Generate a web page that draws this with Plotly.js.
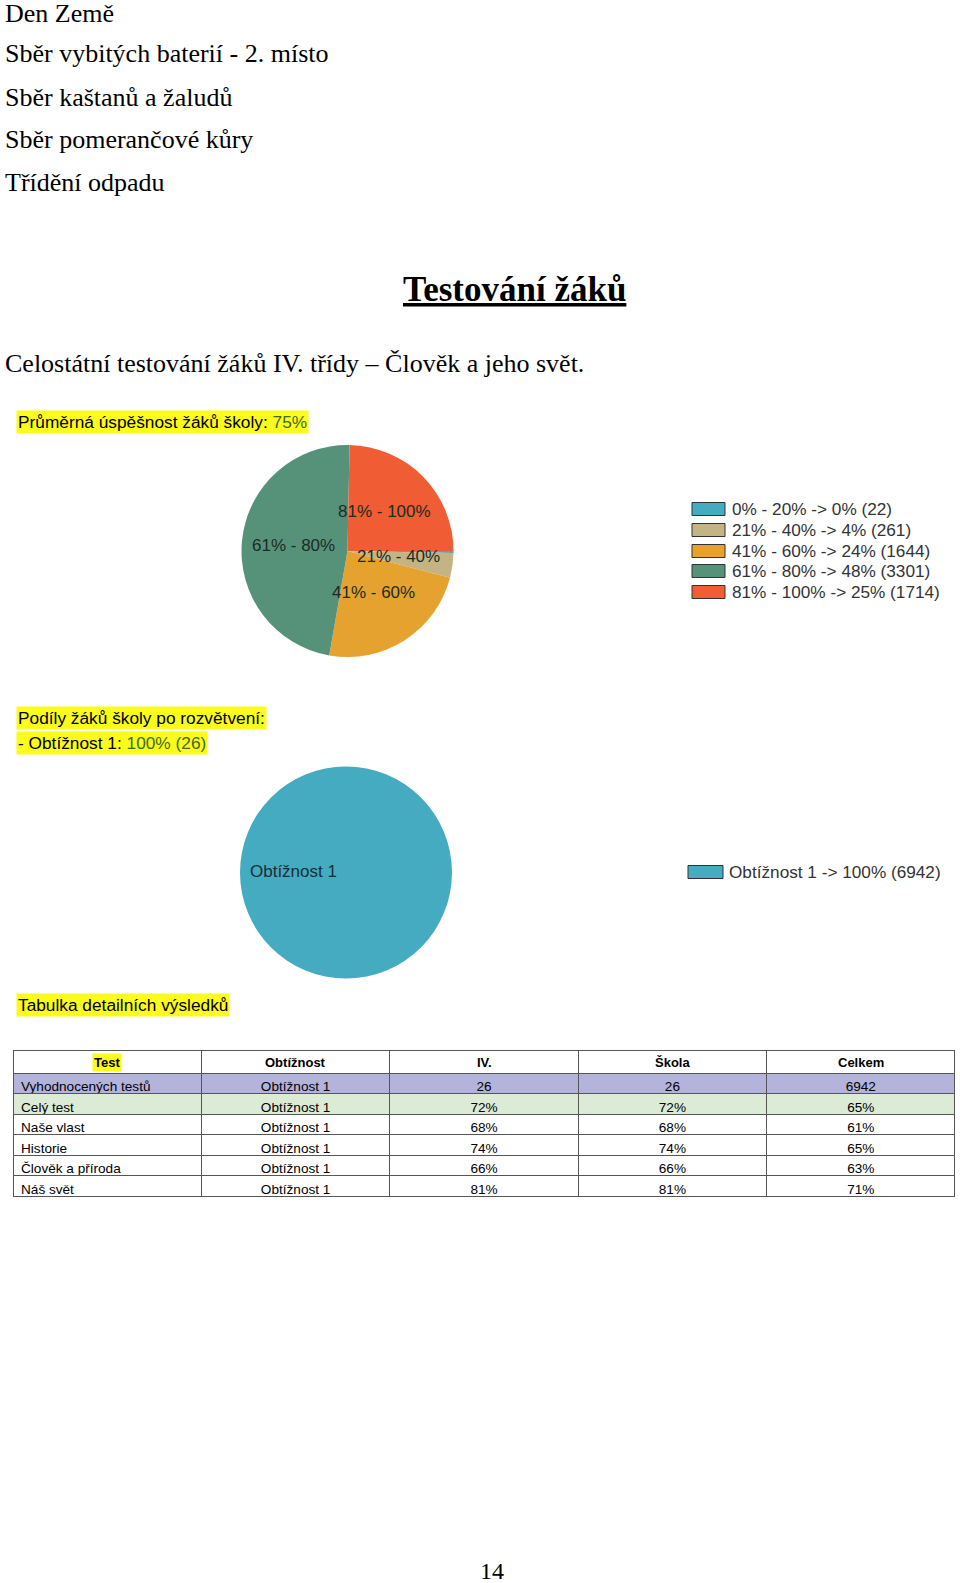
<!DOCTYPE html>
<html>
<head>
<meta charset="utf-8">
<script src="https://cdn.plot.ly/plotly-3.0.1.min.js"></script>
<style>
html,body{margin:0;padding:0;background:#fff;}
#page{width:960px;height:1583px;}
</style>
</head>
<body>
<div id="page"></div>
<script>
// ---------- data ----------
const introLines = ["Den Země", "Sběr vybitých baterií - 2. místo", "Sběr kaštanů a žaludů", "Sběr pomerančové kůry", "Třídění odpadu"];
const pageTitle = "Testování žáků";
const subTitle = "Celostátní testování žáků IV. třídy – Člověk a jeho svět.";
const avgLabel = "Průměrná úspěšnost žáků školy:";
const avgValue = "75%";

const bandLabels = ["0% - 20%", "21% - 40%", "41% - 60%", "61% - 80%", "81% - 100%"];
const bandCounts = [22, 261, 1644, 3301, 1714];
const bandPercents = [0, 4, 24, 48, 25];
const bandColors = ["#45abc0", "#c4b483", "#e6a22f", "#56927a", "#f05c33"];

const branchHeader = "Podíly žáků školy po rozvětvení:";
const branchLabels = ["Obtížnost 1"];
const branchSchoolPct = [100];
const branchSchoolCount = [26];
const branchCounts = [6942];
const branchPercents = [100];
const branchColors = ["#45abc0"];

const tableTitle = "Tabulka detailních výsledků";
const tableHeaders = ["Test", "Obtížnost", "IV.", "Škola", "Celkem"];
const colTest = ["Vyhodnocených testů", "Celý test", "Naše vlast", "Historie", "Člověk a příroda", "Náš svět"];
const colDifficulty = ["Obtížnost 1", "Obtížnost 1", "Obtížnost 1", "Obtížnost 1", "Obtížnost 1", "Obtížnost 1"];
const colClass = ["26", "72%", "68%", "74%", "66%", "81%"];
const colSchool = ["26", "72%", "68%", "74%", "66%", "81%"];
const colTotal = ["6942", "65%", "61%", "65%", "63%", "71%"];
const pageNumber = "14";

// ---------- layout helpers ----------
const W = 960, H = 1583;
const px = x => x / W;
const py = y => 1 - y / H;
const SERIF = "Liberation Serif, Times New Roman, serif";
const SANS = "Liberation Sans, Arial, sans-serif";
const GREEN = "#3f6b1f";

const annotations = [];
const shapes = [];
function txt(text, x, y, opts) {
  annotations.push(Object.assign({
    text: text, x: px(x), y: py(y), xref: "paper", yref: "paper",
    xanchor: "left", yanchor: "middle", showarrow: false,
    font: {family: SERIF, size: 26, color: "#000"}
  }, opts || {}));
}

// intro lines
const introY = [14, 54, 97, 140, 183];
introLines.forEach((t, i) => txt(t, 3, introY[i]));
txt(pageTitle, 514, 290, {xanchor: "center", font: {family: SERIF, size: 35, color: "#000", weight: 700, lineposition: "under"}});
txt(subTitle, 3, 364);

// highlighted headings
const hl = {family: SANS, size: 17.3, color: "#000"};
txt(avgLabel + ' <span style="color:' + GREEN + '">' + avgValue + '</span>', 16, 422, {font: hl, bgcolor: "#fbfb1e", borderpad: 1});
txt(branchHeader, 16, 718, {font: hl, bgcolor: "#fbfb1e", borderpad: 1});
txt("- " + branchLabels[0] + ': <span style="color:' + GREEN + '">' + branchSchoolPct[0] + "% (" + branchSchoolCount[0] + ")</span>", 16, 743, {font: hl, bgcolor: "#fbfb1e", borderpad: 1});
txt(tableTitle, 16, 1005, {font: hl, bgcolor: "#fbfb1e", borderpad: 1});

// pie 1 slice labels (label positions only)
const pie1Label = {1: [398, 556], 2: [373, 593], 3: [293, 545], 4: [384, 512]};
Object.keys(pie1Label).forEach(k => {
  txt(bandLabels[k], pie1Label[k][0], pie1Label[k][1], {xanchor: "center", font: {family: SANS, size: 17, color: "#1e2a24"}});
});
// pie 2 slice label
txt(branchLabels[0], 248, 871, {font: {family: SANS, size: 17, color: "#16303a"}});

// legend 1
const leg1Y = [509, 530, 551, 571, 592];
bandLabels.forEach((l, i) => {
  shapes.push({type: "rect", xref: "paper", yref: "paper", x0: px(692), x1: px(725), y0: py(leg1Y[i] - 6.5), y1: py(leg1Y[i] + 6.5),
    fillcolor: bandColors[i], line: {color: "#333", width: 1}});
  txt(l + " -> " + bandPercents[i] + "% (" + bandCounts[i] + ")", 730, leg1Y[i], {font: {family: SANS, size: 17.2, color: "#333"}});
});
// legend 2
branchLabels.forEach((l, i) => {
  shapes.push({type: "rect", xref: "paper", yref: "paper", x0: px(688), x1: px(723), y0: py(872 - 6.5), y1: py(872 + 6.5),
    fillcolor: branchColors[i], line: {color: "#333", width: 1}});
  txt(l + " -> " + branchPercents[i] + "% (" + branchCounts[i] + ")", 727, 872, {font: {family: SANS, size: 17.2, color: "#333"}});
});

// table geometry (styles only)
const TX0 = 13, TX1 = 955, HEAD_TOP = 1050;
// header labels drawn as annotations (the table header row stays at its set height)
const colW = (TX1 - TX0) / tableHeaders.length;
tableHeaders.forEach((h, i) => {
  const o = {xanchor: "center", font: {family: SANS, size: 13, color: "#000"}};
  if (i === 0) { o.bgcolor = "#fbfb1e"; o.borderpad = 1; }
  txt("<b>" + h + "</b>", TX0 + colW * (i + 0.5), 1062, o);
});

// page number
txt(pageNumber, 492, 1571, {xanchor: "center", font: {family: SERIF, size: 24, color: "#000"}});

// ---------- traces ----------
const pie1 = {
  type: "pie", values: bandCounts, labels: bandLabels, sort: false, direction: "clockwise", rotation: 90,
  marker: {colors: bandColors, line: {width: 0}}, textinfo: "none", hoverinfo: "label+value+percent",
  showlegend: false,
  domain: {x: [px(347.5 - 106), px(347.5 + 106)], y: [py(551 + 106), py(551 - 106)]}
};
const pie2 = {
  type: "pie", values: branchCounts, labels: branchLabels, sort: false,
  marker: {colors: branchColors, line: {width: 0}}, textinfo: "none", hoverinfo: "label+value+percent",
  showlegend: false,
  domain: {x: [px(346 - 106), px(346 + 106)], y: [py(872.5 + 106), py(872.5 - 106)]}
};
const rowFill = ["#b3b3dc", "#dcebd6", "#ffffff", "#ffffff", "#ffffff", "#ffffff"];
const table = {
  type: "table",
  domain: {x: [px(TX0), px(TX1)], y: [py(1200), py(HEAD_TOP)]},
  columnwidth: [1, 1, 1, 1, 1],
  header: {
    values: tableHeaders.map(() => ""),
    align: "center", height: 23,
    fill: {color: "#ffffff"},
    line: {color: "#555", width: 1},
    font: {family: SANS, size: 13, color: "#000"}
  },
  cells: {
    values: [colTest, colDifficulty, colClass, colSchool, colTotal],
    align: ["left", "center", "center", "center", "center"],
    height: 20.5,
    fill: {color: [rowFill, rowFill, rowFill, rowFill, rowFill]},
    line: {color: "#555", width: 1},
    font: {family: SANS, size: 13.6, color: "#000"}
  }
};

Plotly.newPlot("page", [pie1, pie2, table], {
  width: W, height: H,
  margin: {l: 0, r: 0, t: 0, b: 0},
  paper_bgcolor: "#ffffff", plot_bgcolor: "#ffffff",
  showlegend: false,
  annotations: annotations, shapes: shapes
}, {staticPlot: true});
</script>
</body>
</html>
